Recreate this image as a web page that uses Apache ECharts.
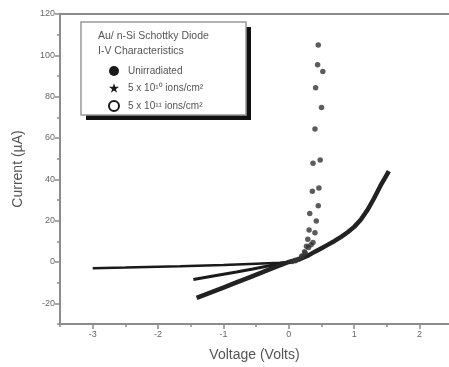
<!DOCTYPE html>
<html>
<head>
<meta charset="utf-8">
<script src="https://cdn.jsdelivr.net/npm/echarts@6/dist/echarts.min.js"></script>
<style>
  html, body { margin: 0; padding: 0; background: #fff; }
  #chart { width: 449px; height: 367px; }
</style>
</head>
<body>
<div id="chart"></div>
<script>
// I-V characteristics of an Au / n-Si Schottky diode at three irradiation levels.
// Each point is [voltage (V), current (µA)].

const seriesNames = ['Unirradiated', '5 x 10¹⁰ ions/cm²', '5 x 10¹¹ ions/cm²'];

// Unirradiated: reverse branch (traced line) and forward branch (sharp rise)
const unirradiatedReverse = [
  [-3.0, -3.0], [-2.5, -2.7], [-2.0, -2.3], [-1.66, -2.05], [-1.0, -1.4],
  [-0.5, -0.8], [-0.14, -0.4], [0.0, 0.0]
];
const unirradiatedForward = [
  [0.05, 0.2], [0.10, 0.6], [0.15, 1.3], [0.20, 2.6], [0.24, 5.0], [0.27, 7.6],
  [0.29, 11.0], [0.31, 15.5], [0.32, 23.5], [0.36, 34.2], [0.37, 47.8],
  [0.40, 64.3], [0.41, 84.3], [0.44, 95.4], [0.45, 105.0]
];

// 5 x 10^10 ions/cm^2
const lowDoseReverse = [
  [-1.46, -8.5], [-1.2, -7.0], [-1.0, -5.9], [-0.8, -4.8], [-0.55, -3.4],
  [-0.3, -1.8], [0.0, 0.0]
];
const lowDoseForward = [
  [0.10, 0.9], [0.20, 2.9], [0.25, 4.4], [0.30, 7.0], [0.34, 8.3], [0.37, 9.4],
  [0.40, 14.2], [0.42, 19.8], [0.45, 27.2], [0.46, 35.8], [0.48, 49.4],
  [0.50, 74.7], [0.52, 92.2]
];

// 5 x 10^11 ions/cm^2: one continuous sweep
const highDoseSweep = [
  [-1.41, -17.4], [-1.2, -14.8], [-1.0, -12.4], [-0.8, -9.9], [-0.6, -7.4],
  [-0.4, -4.9], [-0.2, -2.4], [0.0, 0.0], [0.1, 0.8], [0.2, 1.8], [0.3, 3.2],
  [0.4, 5.0], [0.5, 6.7], [0.6, 8.4], [0.7, 10.2], [0.8, 12.2], [0.9, 14.4],
  [1.0, 17.0], [1.1, 20.4], [1.2, 25.0], [1.3, 30.6], [1.4, 36.8],
  [1.5, 42.3], [1.53, 44.0]
];

// Axis ticks
const xMajorTicks = [-3, -2, -1, 0, 1, 2];
const xMinorTicks = [-3.5, -2.5, -1.5, -0.5, 0.5, 1.5];
const yMajorTicks = [-20, 0, 20, 40, 60, 80, 100, 120];
const yMinorTicks = [-30, -10, 10, 30, 50, 70, 90, 110];

const ink = '#1a1a1a';
const axisGray = '#8c8c8c';
const labelGray = '#666';
const font = 'Arial, "Liberation Sans", sans-serif';

const chart = echarts.init(document.getElementById('chart'), null, { renderer: 'canvas' });

const visibleLine = { show: true, onZero: false, lineStyle: { color: axisGray, width: 2 } };
const hiddenLine = { show: false, onZero: false };
const baseX = { type: 'value', min: -3.5, max: 2.45, gridIndex: 0, splitLine: { show: false } };
const baseY = { type: 'value', min: -30, max: 120, gridIndex: 0, splitLine: { show: false } };

chart.setOption({
  animation: false,
  backgroundColor: '#fff',
  grid: { left: 60, right: 0, top: 14, bottom: 39 },
  xAxis: [
    Object.assign({}, baseX, {
      position: 'bottom', axisLine: visibleLine,
      name: 'Voltage (Volts)', nameLocation: 'middle', nameGap: 24,
      nameTextStyle: { color: '#555', fontSize: 14, fontFamily: font },
      axisTick: { show: true, customValues: xMajorTicks, length: 5, lineStyle: { color: axisGray, width: 1.5 } },
      axisLabel: { customValues: xMajorTicks, color: labelGray, fontSize: 9, fontFamily: font, margin: 6 }
    }),
    Object.assign({}, baseX, {
      position: 'bottom', axisLine: hiddenLine,
      axisTick: { show: true, customValues: xMinorTicks, length: 3, lineStyle: { color: axisGray, width: 1.5 } },
      axisLabel: { show: false }
    }),
    Object.assign({}, baseX, {
      position: 'top', axisLine: visibleLine,
      axisTick: { show: false }, axisLabel: { show: false }
    })
  ],
  yAxis: [
    Object.assign({}, baseY, {
      position: 'left', axisLine: visibleLine,
      name: 'Current (µA)', nameLocation: 'middle', nameGap: 35,
      nameTextStyle: { color: '#555', fontSize: 14, fontFamily: font },
      axisTick: { show: true, customValues: yMajorTicks, length: 5, lineStyle: { color: axisGray, width: 1.5 } },
      axisLabel: { customValues: yMajorTicks, color: labelGray, fontSize: 9, fontFamily: font, margin: 5 }
    }),
    Object.assign({}, baseY, {
      position: 'left', axisLine: hiddenLine,
      axisTick: { show: true, customValues: yMinorTicks, length: 3, lineStyle: { color: axisGray, width: 1.5 } },
      axisLabel: { show: false }
    })
  ],
  legend: {
    orient: 'vertical',
    left: 103, top: 61,
    itemWidth: 10, itemHeight: 10, itemGap: 7,
    data: [
      { name: seriesNames[0], icon: 'circle' },
      { name: seriesNames[1], icon: 'path://M5,0 L6.2,3.6 L10,3.6 L6.9,5.9 L8.1,9.5 L5,7.3 L1.9,9.5 L3.1,5.9 L0,3.6 L3.8,3.6 Z' },
      { name: seriesNames[2], icon: 'emptyCircle' }
    ],
    textStyle: { color: '#555', fontSize: 10, fontFamily: font, padding: [0, 0, 0, 4] },
    selectedMode: false
  },
  graphic: [
    {
      // drop shadow of the legend frame
      type: 'rect', z: 0,
      shape: { x: 86, y: 27, width: 165, height: 93 },
      style: { fill: '#111' }
    },
    {
      type: 'rect', z: 0,
      shape: { x: 81, y: 22, width: 165, height: 93 },
      style: { fill: '#fff', stroke: '#999', lineWidth: 1.5 }
    },
    {
      type: 'text', z: 1, left: 98, top: 31,
      style: { text: 'Au/ n-Si Schottky Diode', fill: '#555', font: '10.5px ' + font }
    },
    {
      type: 'text', z: 1, left: 98, top: 46,
      style: { text: 'I-V Characteristics', fill: '#555', font: '10.5px ' + font }
    }
  ],
  series: [
    {
      name: seriesNames[0], type: 'line', data: unirradiatedReverse,
      showSymbol: false, lineStyle: { color: ink, width: 2.5 }, itemStyle: { color: ink }, z: 3
    },
    {
      name: seriesNames[0], type: 'scatter', data: unirradiatedForward,
      symbol: 'circle', symbolSize: 5.5, itemStyle: { color: '#333' }, z: 4
    },
    {
      name: seriesNames[1], type: 'line', data: lowDoseReverse,
      showSymbol: false, lineStyle: { color: ink, width: 3 }, itemStyle: { color: ink }, z: 3
    },
    {
      name: seriesNames[1], type: 'scatter', data: lowDoseForward,
      symbol: 'circle', symbolSize: 5.5, itemStyle: { color: '#333' }, z: 4
    },
    {
      name: seriesNames[2], type: 'line', data: highDoseSweep,
      showSymbol: false,
      lineStyle: { color: '#222', width: 4.5, join: 'round' }, itemStyle: { color: ink }, z: 3
    }
  ]
});
</script>
</body>
</html>
